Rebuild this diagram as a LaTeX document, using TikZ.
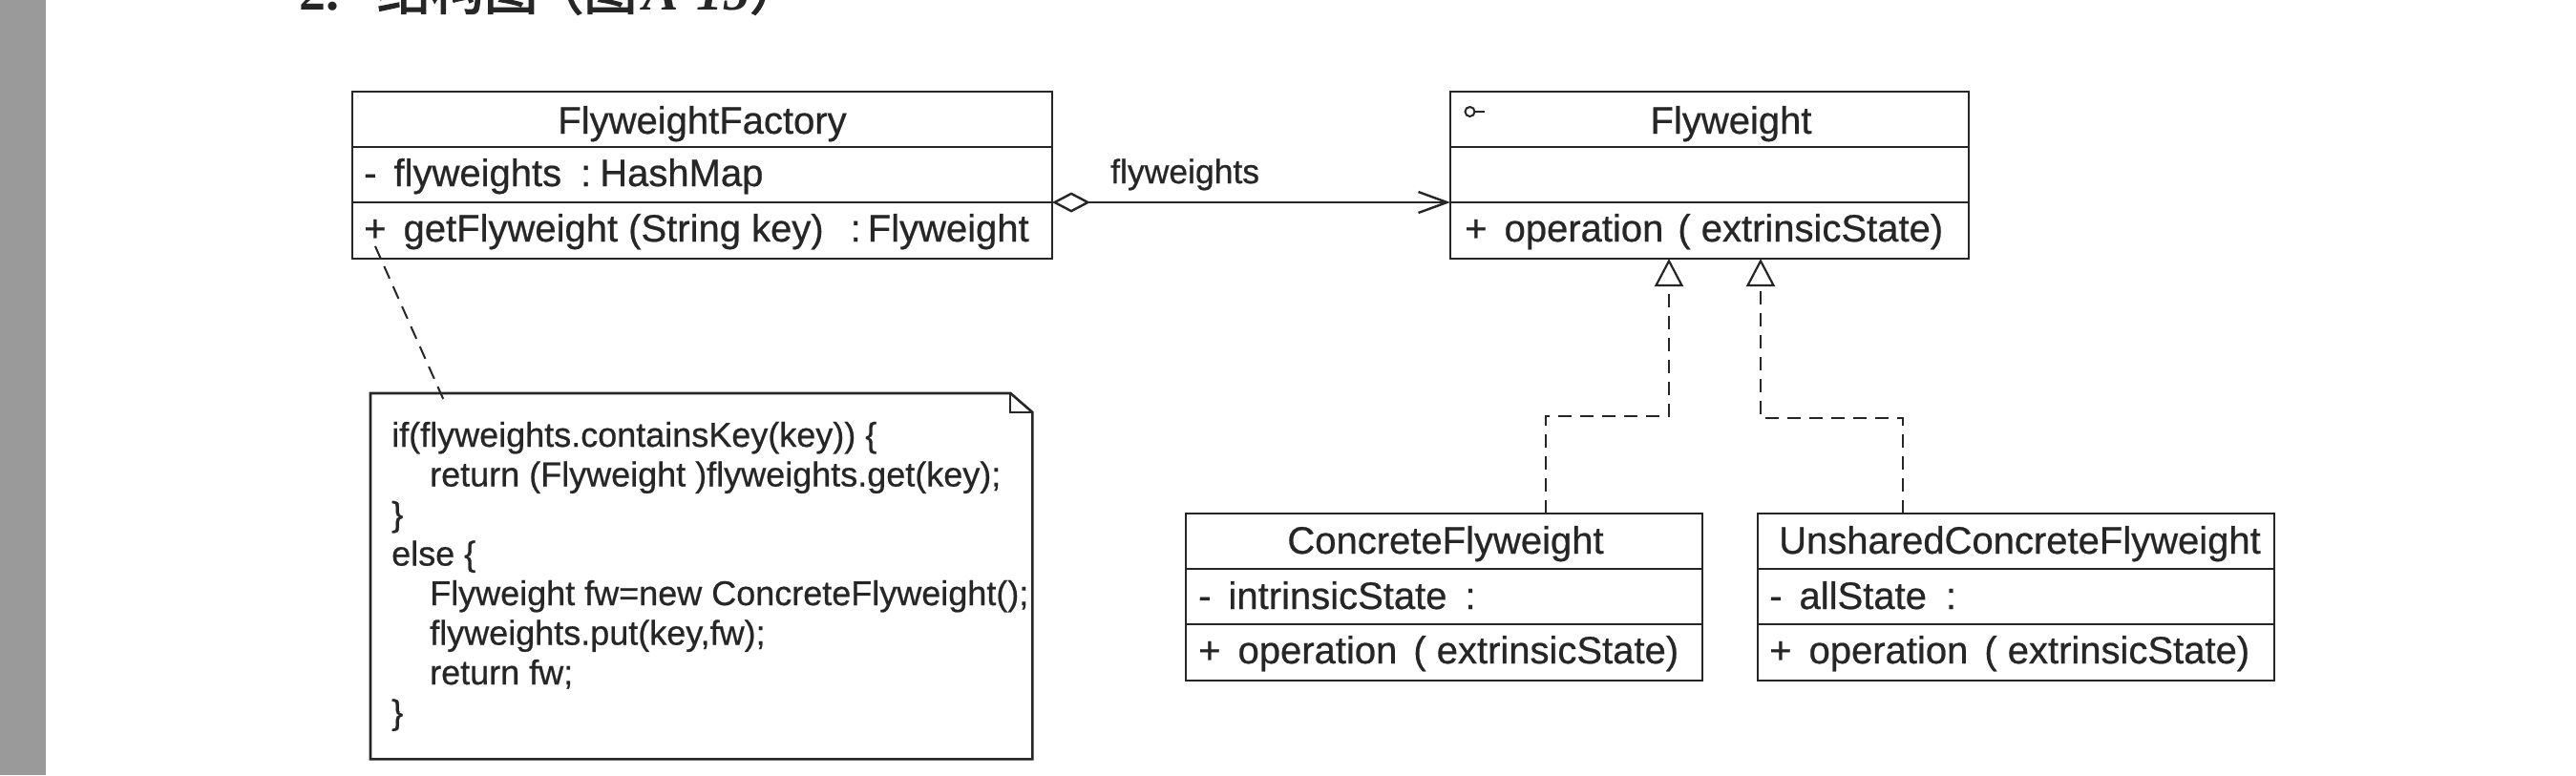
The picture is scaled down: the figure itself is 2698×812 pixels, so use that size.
\documentclass[tikz,border=0pt]{standalone}
\usepackage{fontspec}
\setmainfont{Liberation Sans}[FakeBold=0.6]
\newfontfamily\cjk{Noto Sans CJK SC}[FakeBold=2.5]
\newfontfamily\hdrfont{Liberation Serif}
\usetikzlibrary{arrows.meta}
\definecolor{ink}{HTML}{262626}
\definecolor{stripgray}{HTML}{9A9A9A}
\newcommand\umlminus{-\hspace{18pt}}
\newcommand\umlplus{+\hspace{18pt}}
\tikzset{
  umlbox/.style={draw=ink, line width=2.8pt, rectangle, inner sep=0pt, outer sep=0pt, anchor=north west},
  divider/.style={draw=ink, line width=2.6pt},
  title/.style={font=\fontsize{40}{48}\selectfont, text=ink, anchor=base, inner sep=0pt},
  member/.style={font=\fontsize{40}{48}\selectfont, text=ink, anchor=base west, inner sep=0pt},
  notetxt/.style={font=\fontsize{36}{42}\selectfont, text=ink, anchor=base west, inner sep=0pt},
  assoc/.style={draw=ink, line width=2.4pt, {Diamond[open,length=40pt,width=21pt]}-{Straight Barb[length=30pt,width=22pt]}},
  realize/.style={draw=ink, line width=2.2pt, dash pattern=on 14pt off 9pt, -{Triangle[open,length=29pt,width=30pt]}},
  anchorline/.style={draw=ink, line width=2pt, dash pattern=on 14pt off 9pt},
}
\begin{document}
\begin{tikzpicture}[x=1pt, y=-1pt]
\useasboundingbox (0,0) rectangle (2698,812);
\fill[white] (0,0) rectangle (2698,812);
\fill[stripgray] (0,0) rectangle (48,812);

% header (cut off at top, as in the reference)
\node[anchor=base west, inner sep=0pt, text=ink, font=\fontsize{56}{60}\selectfont] (hdr) at (313,10)
  {{\hdrfont\bfseries 2.}\hspace{40pt}{\cjk 结构图\hspace{-8pt}（图}\hspace{6pt}{\hdrfont\bfseries\itshape A-15}{\cjk ）}};

% FlyweightFactory
\node[umlbox, minimum width=733pt, minimum height=175pt] (fac) at (369,96) {};
\draw[divider] (369,154) -- (1102,154);
\draw[divider] (369,212) -- (1102,212);
\node[title] (facT) at (735.5,140) {FlyweightFactory};
\node[member] (facA) at (381,195) {\umlminus flyweights\hspace{20pt}:\hspace{9pt}HashMap};
\node[member] (facO) at (381,253) {\umlplus getFlyweight (String key)\hspace{28pt}:\hspace{7pt}Flyweight};

% Flyweight
\node[umlbox, minimum width=543pt, minimum height=175pt] (fw) at (1519,96) {};
\draw[divider] (1519,154) -- (2062,154);
\draw[divider] (1519,212) -- (2062,212);
\draw[ink, line width=2pt] (1539.5,117) circle[radius=5pt];
\draw[ink, line width=2pt] (1544.5,117) -- (1555,117);
\node[title] (fwT) at (1813,140) {Flyweight};
\node[member] (fwO) at (1534,253) {\umlplus operation\hspace{15pt}(\ extrinsicState)};

% ConcreteFlyweight
\node[umlbox, minimum width=541pt, minimum height=175pt] (cf) at (1242,538) {};
\draw[divider] (1242,596) -- (1783,596);
\draw[divider] (1242,654) -- (1783,654);
\node[title] (cfT) at (1514,580) {ConcreteFlyweight};
\node[member] (cfA) at (1255,638) {\umlminus intrinsicState\hspace{19pt}:};
\node[member] (cfO) at (1255,695) {\umlplus operation\hspace{17pt}(\ extrinsicState)};

% UnsharedConcreteFlyweight
\node[umlbox, minimum width=541pt, minimum height=175pt] (ucf) at (1841,538) {};
\draw[divider] (1841,596) -- (2382,596);
\draw[divider] (1841,654) -- (2382,654);
\node[title] (ucfT) at (2115.5,580) {UnsharedConcreteFlyweight};
\node[member] (ucfA) at (1853,638) {\umlminus allState\hspace{20pt}:};
\node[member] (ucfO) at (1853,695) {\umlplus operation\hspace{17pt}(\ extrinsicState)};

% note
\node[draw=none, minimum width=693pt, minimum height=383pt, anchor=north west, inner sep=0pt] (note) at (388,412) {};
\draw[draw=ink, line width=2.6pt, line join=miter] (note.north west) -- ([xshift=-23pt]note.north east) -- ([yshift=-20pt]note.north east) -- (note.south east) -- (note.south west) -- cycle;
\draw[ink, line width=2pt] ([xshift=-23pt]note.north east) |- ([yshift=-20pt]note.north east);
\node[notetxt] (n1) at (410,468)   {if(flyweights.containsKey(key)) \{};
\node[notetxt] (n2) at (450,509.5) {return (Flyweight )flyweights.get(key);};
\node[notetxt] (n3) at (410,551)   {\}};
\node[notetxt] (n4) at (410,592.5) {else \{};
\node[notetxt] (n5) at (450,634)   {Flyweight fw=new ConcreteFlyweight();};
\node[notetxt] (n6) at (450,675.5) {flyweights.put(key,fw);};
\node[notetxt] (n7) at (450,717)   {return fw;};
\node[notetxt] (n8) at (410,758.5) {\}};

% connectors
\coordinate (facport) at ([xshift=24pt,yshift=13pt]fac.south west);
\coordinate (noteport) at ([xshift=78pt,yshift=-10pt]note.north west);
\draw[anchorline] (facport) -- (noteport);

\draw[assoc] ([yshift=-28.5pt]fac.east) -- ([yshift=-28.5pt]fw.west);
\node[notetxt, font=\fontsize{35.5}{42}\selectfont] (lbl) at (1163,192) {flyweights};

\draw[realize] ([xshift=106.5pt]cf.north) -- ++(0,-102) -| ([xshift=-42.5pt]fw.south);
\draw[realize] ([xshift=-118.5pt]ucf.north) -- ++(0,-100) -| ([xshift=53.5pt]fw.south);
\end{tikzpicture}
\end{document}
